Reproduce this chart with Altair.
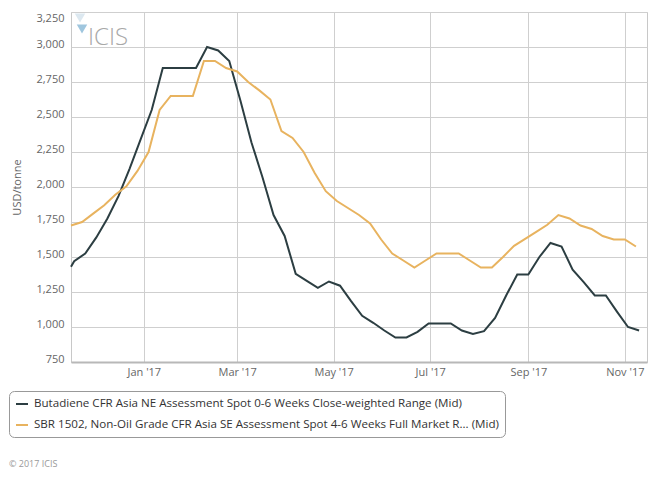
import altair as alt
import pandas as pd

BD_NAME = "Butadiene CFR Asia NE Assessment Spot 0-6 Weeks Close-weighted Range (Mid)"
SBR_NAME = "SBR 1502, Non-Oil Grade CFR Asia SE Assessment Spot 4-6 Weeks Full Market R... (Mid)"
series_names = [BD_NAME, SBR_NAME]
series_colors = ["#2C3E42", "#E8B35F"]

bd_dates = ["2016-11-16", "2016-11-18", "2016-11-25", "2016-12-02", "2016-12-09", "2016-12-16",
            "2016-12-23", "2016-12-30",
            "2017-01-06", "2017-01-13", "2017-01-20", "2017-01-27", "2017-02-03", "2017-02-10",
            "2017-02-17", "2017-02-24",
            "2017-03-03", "2017-03-10", "2017-03-17", "2017-03-24", "2017-03-31", "2017-04-07",
            "2017-04-14", "2017-04-21", "2017-04-28",
            "2017-05-05", "2017-05-12", "2017-05-19", "2017-05-26", "2017-06-02", "2017-06-09",
            "2017-06-16", "2017-06-23", "2017-06-30",
            "2017-07-07", "2017-07-14", "2017-07-21", "2017-07-28", "2017-08-04", "2017-08-11",
            "2017-08-18", "2017-08-25",
            "2017-09-01", "2017-09-08", "2017-09-15", "2017-09-22", "2017-09-29", "2017-10-06",
            "2017-10-13", "2017-10-20", "2017-10-27",
            "2017-11-03", "2017-11-10"]
bd_values = [1430, 1470, 1525, 1640, 1775, 1935, 2130, 2340,
             2550, 2850, 2850, 2850, 2850, 3000, 2975, 2900,
             2620, 2320, 2070, 1800, 1650, 1380, 1330, 1280, 1325,
             1295, 1185, 1080, 1030, 975, 925, 925, 965, 1025,
             1025, 1025, 975, 950, 970, 1065, 1225, 1375,
             1375, 1500, 1600, 1575, 1410, 1320, 1225, 1225, 1110,
             1000, 975]

sbr_dates = ["2016-11-16", "2016-11-23", "2016-11-30", "2016-12-07", "2016-12-14", "2016-12-21",
             "2016-12-28",
             "2017-01-04", "2017-01-11", "2017-01-18", "2017-01-25", "2017-02-01", "2017-02-08",
             "2017-02-15", "2017-02-22",
             "2017-03-01", "2017-03-08", "2017-03-15", "2017-03-22", "2017-03-29", "2017-04-05",
             "2017-04-12", "2017-04-19", "2017-04-26",
             "2017-05-03", "2017-05-10", "2017-05-17", "2017-05-24", "2017-05-31", "2017-06-07",
             "2017-06-14", "2017-06-21", "2017-06-28",
             "2017-07-05", "2017-07-12", "2017-07-19", "2017-07-26", "2017-08-02", "2017-08-09",
             "2017-08-16", "2017-08-23", "2017-08-30",
             "2017-09-06", "2017-09-13", "2017-09-20", "2017-09-27", "2017-10-04", "2017-10-11",
             "2017-10-18", "2017-10-25",
             "2017-11-01", "2017-11-08"]
sbr_values = [1725, 1750, 1810, 1870, 1945, 2005, 2115,
              2250, 2550, 2650, 2650, 2650, 2900, 2900, 2850,
              2825, 2750, 2690, 2625, 2400, 2350, 2250, 2100, 1970,
              1900, 1850, 1800, 1740, 1625, 1525, 1475, 1425, 1475,
              1525, 1525, 1525, 1475, 1425, 1425, 1500, 1580, 1630,
              1680, 1730, 1800, 1775, 1725, 1700, 1650, 1625,
              1625, 1575]

y_ticks = [750, 1000, 1250, 1500, 1750, 2000, 2250, 2500, 2750, 3000, 3250]
x_tick_months = [1, 3, 5, 7, 9, 11]

FONT = "Open Sans"

df = pd.concat([
    pd.DataFrame({"date": bd_dates, "value": bd_values, "series": BD_NAME}),
    pd.DataFrame({"date": sbr_dates, "value": sbr_values, "series": SBR_NAME}),
], ignore_index=True)
df["date"] = df["date"] + "T00:00:00"

x_domain = [alt.DateTime(year=2016, month=11, date=16), alt.DateTime(year=2017, month=11, date=15)]
x_values = [alt.DateTime(year=2017, month=m, date=1) for m in x_tick_months]

lines = alt.Chart(df).mark_line(strokeWidth=2).encode(
    x=alt.X("date:T",
            scale=alt.Scale(domain=x_domain),
            axis=alt.Axis(values=x_values, format="%b '%y", title=None, grid=True,
                          ticks=False, labelPadding=4, labelFont=FONT, labelFontSize=11,
                          labelColor="#666666", domainColor="#b8b8b8", domainWidth=2,
                          gridColor="#cfcfcf")),
    y=alt.Y("value:Q",
            scale=alt.Scale(domain=[750, 3250], nice=False, zero=False),
            axis=alt.Axis(values=y_ticks, format=",d", title="USD/tonne", grid=True,
                          ticks=False, domain=False, labelPadding=7, labelFont=FONT,
                          labelFontSize=11, labelColor="#666666",
                          labelBaseline={"condition": {"test": "datum.value >= 3250", "value": "top"},
                                         "value": "alphabetic"},
                          titleFont=FONT, titleFontSize=11, titleFontWeight="normal",
                          titleColor="#666666", titleX=-54, titleY=175, titleAngle=270,
                          titleAlign="center", titleBaseline="middle",
                          gridColor="#cfcfcf")),
    color=alt.Color("series:N",
                    scale=alt.Scale(domain=series_names, range=series_colors),
                    legend=alt.Legend(title=None, orient="none", legendX=-62, legendY=379,
                                      direction="vertical", labelFont=FONT, labelFontSize=11.6,
                                      labelColor="#333333", labelLimit=1000, symbolType="stroke",
                                      symbolStrokeWidth=2, symbolSize=144, labelOffset=5,
                                      padding=6, rowPadding=8, strokeColor="#999999",
                                      cornerRadius=5, fillColor="white")),
)

logo_tri = alt.Chart(pd.DataFrame({"c": ["#dce8f0", "#9fc6de"],
                                   "px": [9, 11], "py": [6, 17]})).mark_point(
    filled=True, opacity=1, shape="triangle-down", size=110
).encode(x=alt.X("px:Q", scale=None), y=alt.Y("py:Q", scale=None),
         color=alt.Color("c:N", scale=None))

logo = alt.Chart(pd.DataFrame({"t": ["ICIS"]})).mark_text(
    font=FONT, fontSize=24, fontWeight=300, color="#a8a8a8", align="left", baseline="alphabetic"
).encode(x=alt.value(17), y=alt.value(33), text="t:N")

credit = alt.Chart(pd.DataFrame({"t": ["© 2017 ICIS"]})).mark_text(
    font=FONT, fontSize=9, color="#999999", align="left", baseline="middle"
).encode(x=alt.value(-62), y=alt.value(452), text="t:N")

chart = alt.layer(lines, logo_tri, logo, credit).properties(
    width=576, height=350,
    autosize=alt.AutoSizeParams(type="none"),
    padding={"left": 63, "top": 4, "right": 13, "bottom": 108},
    background="white",
).configure_view(stroke="#c8c8c8", strokeWidth=1)

chart.save("out.html", embed_options={"renderer": "svg", "actions": False})
